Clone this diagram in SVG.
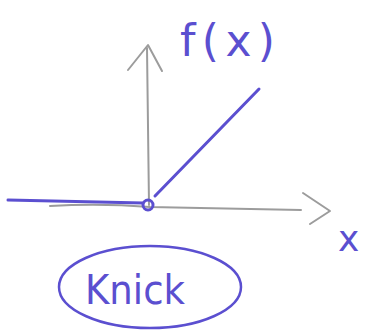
<svg xmlns="http://www.w3.org/2000/svg" width="366" height="333" viewBox="0 0 366 333">
<style>
.ax{fill:none;stroke:#9c9c9c;stroke-width:2;stroke-linecap:round;stroke-linejoin:round}
.pu{fill:none;stroke:#5b4fd0;stroke-width:3;stroke-linecap:round;stroke-linejoin:round}
.t{fill:#5b4fd0;font-family:"DejaVu Sans","Liberation Sans",sans-serif}
</style>
<rect width="366" height="333" fill="#fff"/>
<g id="axes">
<path class="ax" d="M149 205 L147 48"/>
<path class="ax" d="M128 70 L148 45 L162 71"/>
<path class="ax" d="M50 206 Q100 203 150 207 L301 210"/>
<path class="ax" d="M303 193 L330 211 L310 224"/>
</g>
<g id="function">
<path class="pu" d="M8 200 L143 203"/>
<circle cx="148" cy="205" r="5" fill="none" stroke="#5b4fd0" stroke-width="3"/>
<path class="pu" d="M155 196 L259 89"/>
</g>
<g id="labels">
<text class="t" x="180" y="56" font-size="44" textLength="95" lengthAdjust="spacing">f(x)</text>
<text class="t" x="338" y="251" font-size="36">x</text>
</g>
<g id="knick">
<ellipse cx="150" cy="287" rx="91" ry="41" fill="none" stroke="#5b4fd0" stroke-width="2.5"/>
<text class="t" x="85" y="304" font-size="40" textLength="100" lengthAdjust="spacingAndGlyphs">Knick</text>
</g>
</svg>
